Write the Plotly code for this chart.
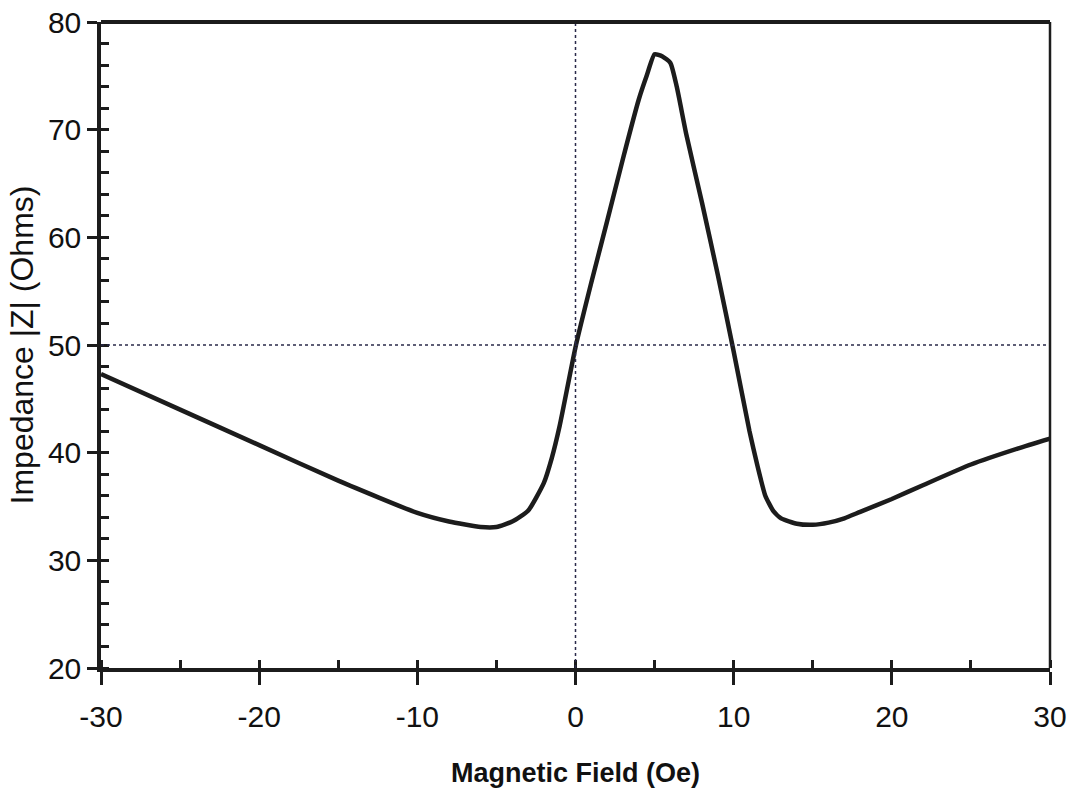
import plotly.graph_objects as go

# Impedance magnitude vs applied magnetic field
field_oe = [-30, -25, -20, -15, -10, -8, -6, -5, -4, -3, -2, -1.5, -1, 0,
            1, 2, 3, 4, 4.5, 5, 5.5, 6, 6.4, 7, 8, 9, 10, 11, 11.5, 12,
            12.5, 13, 14, 15, 16, 17, 18, 20, 22, 25, 28, 30]
impedance_ohm = [47.3, 44.0, 40.7, 37.4, 34.4, 33.6, 33.1, 33.1, 33.6, 34.6,
                 37.2, 39.5, 42.5, 49.8, 55.8, 61.5, 67.3, 72.8, 75.0, 77.0,
                 76.8, 76.2, 74.0, 69.6, 63.2, 56.5, 49.4, 42.0, 38.8, 36.0,
                 34.6, 33.9, 33.4, 33.3, 33.5, 33.9, 34.5, 35.7, 37.0, 38.9,
                 40.4, 41.3]

x_ticks = [-30, -20, -10, 0, 10, 20, 30]
y_ticks = [20, 30, 40, 50, 60, 70, 80]
ref_field = 0
ref_impedance = 50

sans = "Liberation Sans, Arial, sans-serif"
ink = "#1c1c1c"

fig = go.Figure()
fig.add_trace(go.Scatter(
    x=field_oe, y=impedance_ohm, mode="lines",
    line=dict(color=ink, width=4.5, shape="spline", smoothing=0.5),
    showlegend=False, hoverinfo="skip",
))

# dotted reference lines
fig.add_shape(type="line", xref="x", yref="paper", x0=ref_field, x1=ref_field,
              y0=0, y1=1, line=dict(color="#2a2a4a", width=1.5, dash="dot"))
fig.add_shape(type="line", xref="paper", yref="y", x0=0, x1=1,
              y0=ref_impedance, y1=ref_impedance,
              line=dict(color="#2a2a4a", width=1.5, dash="dot"))
# top and right frame
fig.add_shape(type="line", xref="paper", yref="paper", x0=0, x1=1, y0=1, y1=1,
              line=dict(color=ink, width=4))
fig.add_shape(type="line", xref="paper", yref="paper", x0=1, x1=1, y0=0, y1=1,
              line=dict(color=ink, width=2.5))

tick_style = dict(tickwidth=2.5, tickcolor=ink)

fig.update_layout(
    width=1075, height=796,
    margin=dict(l=101, r=25, t=22, b=128, autoexpand=False),
    paper_bgcolor="white", plot_bgcolor="white",
    xaxis=dict(
        range=[-30, 30], tickvals=x_ticks, ticktext=[str(v) for v in x_ticks],
        automargin=False,
        showgrid=False, zeroline=False, showline=True, linecolor=ink, linewidth=3.5,
        ticks="outside", ticklen=13, **tick_style,
        minor=dict(ticks="inside", dtick=5, tick0=-30, ticklen=8, **tick_style),
        tickfont=dict(family=sans, size=30, color="#111"),
        ticklabelstandoff=6,
        title=dict(text="<b>Magnetic Field (Oe)</b>",
                   font=dict(family=sans, size=27, color="#111"), standoff=32),
    ),
    yaxis=dict(
        range=[20, 80], tickvals=y_ticks, ticktext=[str(v) for v in y_ticks],
        automargin=False,
        showgrid=False, zeroline=False, showline=True, linecolor=ink, linewidth=3.5,
        ticks="outside", ticklen=10, **tick_style,
        minor=dict(ticks="inside", dtick=2, tick0=20, ticklen=8, **tick_style),
        tickfont=dict(family=sans, size=30, color="#111"),
        ticklabelstandoff=0,
        title=dict(text="Impedance |Z| (Ohms)",
                   font=dict(family=sans, size=32, color="#111"), standoff=6),
    ),
    # overlay axes carrying the short inward stubs of the major ticks
    xaxis2=dict(overlaying="x", matches="x", anchor="y", side="bottom",
                tickvals=x_ticks, showticklabels=False, ticks="inside", ticklen=7,
                showgrid=False, zeroline=False, showline=False, **tick_style),
    yaxis2=dict(overlaying="y", matches="y", anchor="x", side="left",
                tickvals=y_ticks, showticklabels=False, ticks="inside", ticklen=7,
                showgrid=False, zeroline=False, showline=False, **tick_style),
)

fig.write_html("out.html")
